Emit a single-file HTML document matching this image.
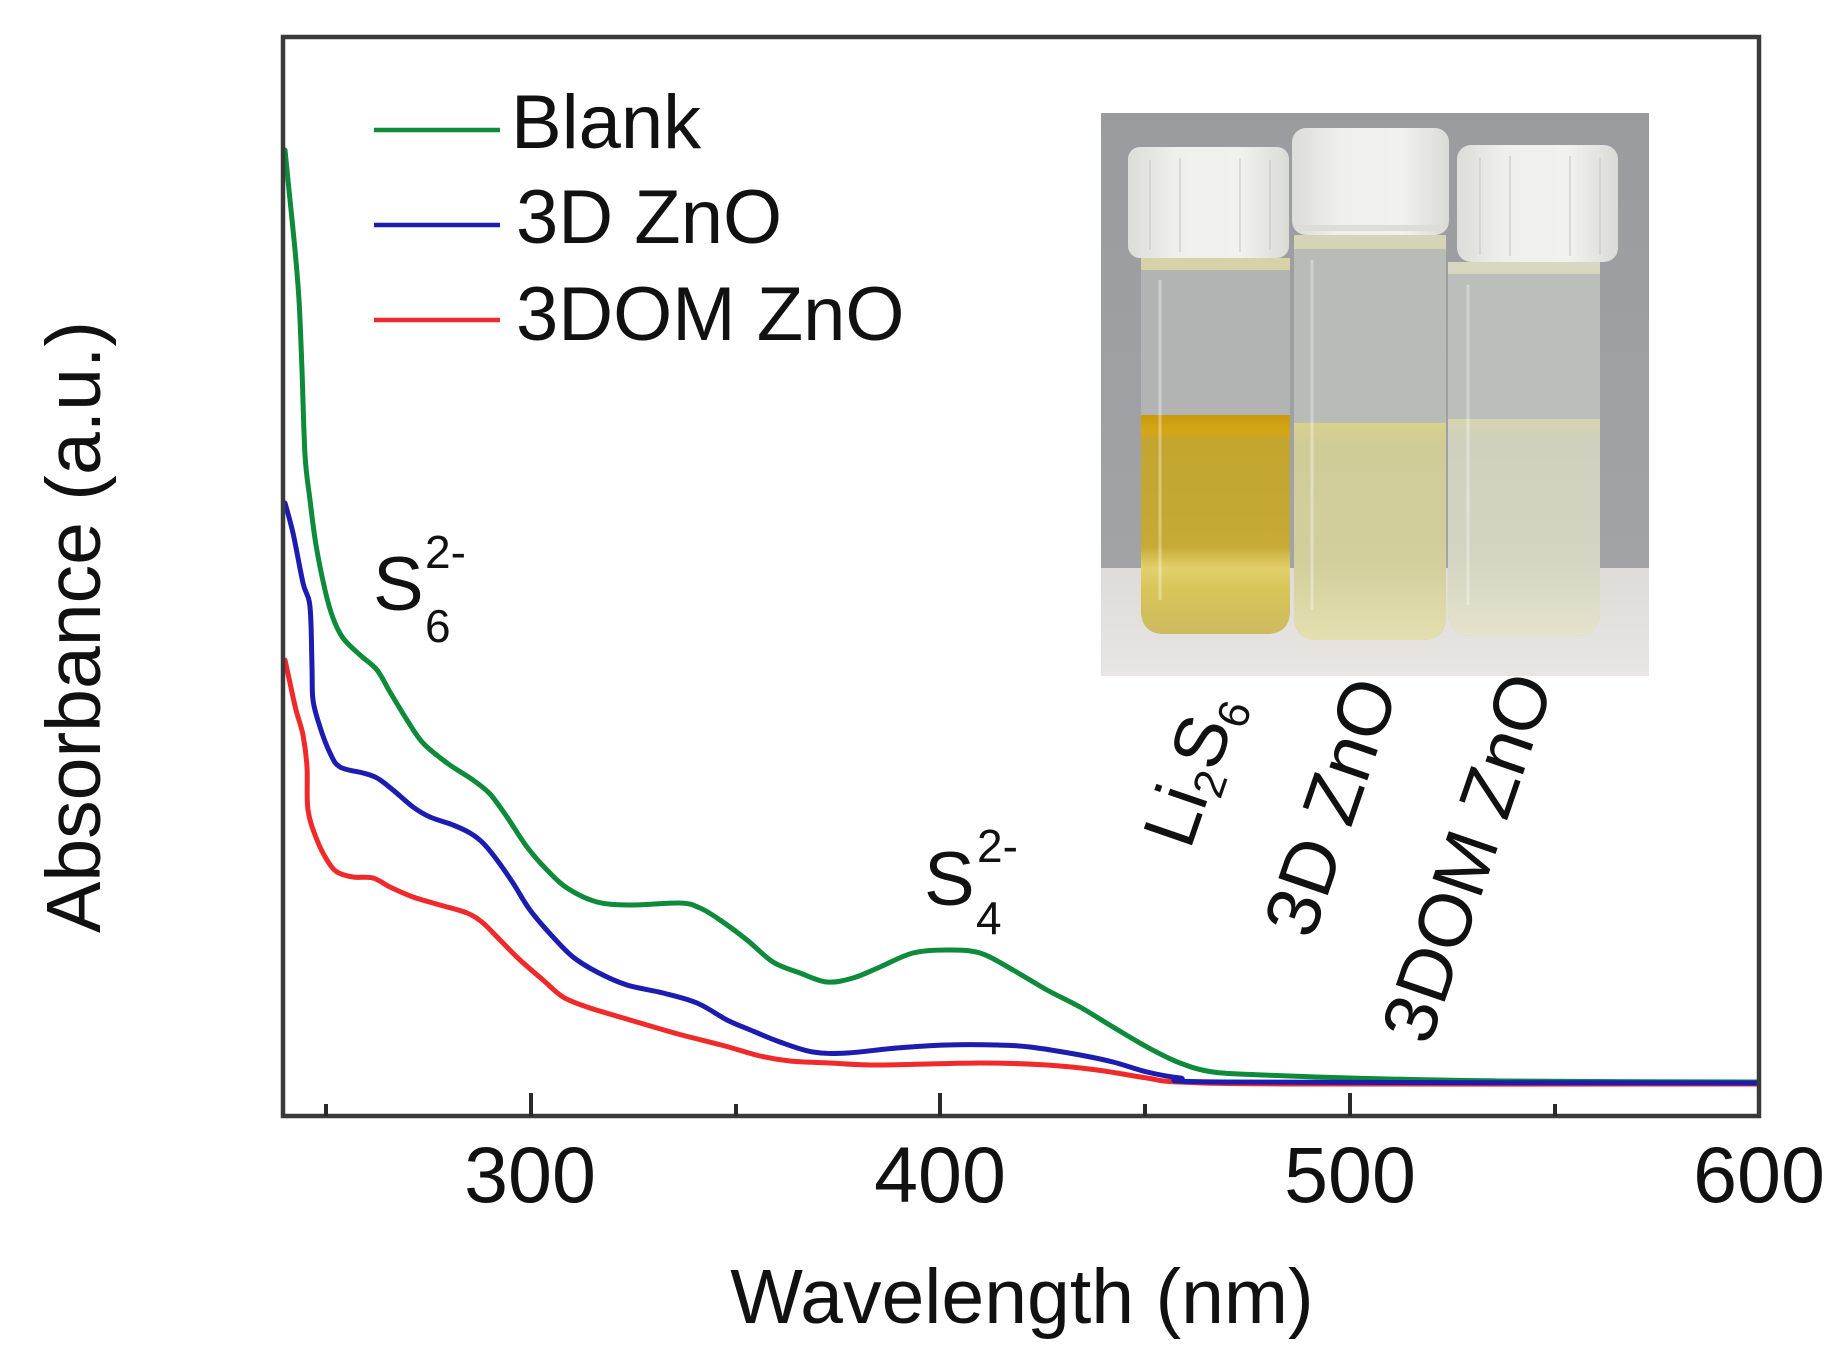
<!DOCTYPE html>
<html>
<head>
<meta charset="utf-8">
<style>
  html,body{margin:0;padding:0;background:#fff;}
  svg{display:block;}
  text{font-family:"Liberation Sans",Arial,sans-serif;fill:#111;}
</style>
</head>
<body>
<svg id="chart" width="1833" height="1361" viewBox="0 0 1833 1361" xmlns="http://www.w3.org/2000/svg">
  <defs>
    <linearGradient id="bgG" x1="0" y1="0" x2="0" y2="1">
      <stop offset="0" stop-color="#999b9f"/>
      <stop offset="1" stop-color="#a3a5a8"/>
    </linearGradient>
    <linearGradient id="tableG" x1="0" y1="0" x2="0" y2="1">
      <stop offset="0" stop-color="#dedbd8"/>
      <stop offset="1" stop-color="#e8e6e3"/>
    </linearGradient>
    <linearGradient id="capG" x1="0" y1="0" x2="1" y2="0">
      <stop offset="0" stop-color="#dcdcd8"/>
      <stop offset="0.3" stop-color="#efefec"/>
      <stop offset="0.7" stop-color="#f1f1ee"/>
      <stop offset="1" stop-color="#dadad6"/>
    </linearGradient>
    <linearGradient id="liq1" x1="0" y1="0" x2="0" y2="1">
      <stop offset="0" stop-color="#c89a0c"/>
      <stop offset="0.08" stop-color="#d2a818"/>
      <stop offset="0.12" stop-color="#c3a530"/>
      <stop offset="0.6" stop-color="#c6aa36"/>
      <stop offset="0.7" stop-color="#e2d06c"/>
      <stop offset="0.8" stop-color="#d8c458"/>
      <stop offset="1" stop-color="#cdbb60"/>
    </linearGradient>
    <linearGradient id="liq2" x1="0" y1="0" x2="0" y2="1">
      <stop offset="0" stop-color="#d8d28a"/>
      <stop offset="0.1" stop-color="#cfcc98"/>
      <stop offset="0.65" stop-color="#d2cf9c"/>
      <stop offset="1" stop-color="#e4dfb0"/>
    </linearGradient>
    <linearGradient id="liq3" x1="0" y1="0" x2="0" y2="1">
      <stop offset="0" stop-color="#d6d4b0"/>
      <stop offset="0.1" stop-color="#cfd0be"/>
      <stop offset="0.65" stop-color="#d3d4c2"/>
      <stop offset="1" stop-color="#e6e3cc"/>
    </linearGradient>
    <clipPath id="photoClip"><rect x="1101" y="113" width="548" height="563"/></clipPath>
  </defs>

  <rect width="1833" height="1361" fill="#fff"/>

  <!-- Inset photo -->
  <g clip-path="url(#photoClip)">
    <rect x="1101" y="113" width="548" height="563" fill="url(#bgG)"/>
    <rect x="1101" y="568" width="548" height="108" fill="url(#tableG)"/>

    <!-- Vial 1 -->
    <path d="M1141 258 H1290 V610 Q1290 634 1266 634 H1165 Q1141 634 1141 610 Z" fill="#b2b4b3"/>
    <path d="M1141 415 H1290 V610 Q1290 634 1266 634 H1165 Q1141 634 1141 610 Z" fill="url(#liq1)"/>
    <rect x="1141" y="258" width="149" height="12" fill="#d8d2a8"/>
    <rect x="1128" y="147" width="161" height="111" rx="12" fill="url(#capG)"/>
    <!-- Vial 2 -->
    <path d="M1294 235 H1446 V616 Q1446 640 1422 640 H1318 Q1294 640 1294 616 Z" fill="#b9bbb7"/>
    <path d="M1294 423 H1446 V616 Q1446 640 1422 640 H1318 Q1294 640 1294 616 Z" fill="url(#liq2)"/>
    <rect x="1294" y="235" width="152" height="14" fill="#d6d4b6"/>
    <rect x="1292" y="128" width="157" height="107" rx="14" fill="url(#capG)"/>
    <rect x="1300" y="225" width="140" height="6" fill="#dcdcd8"/>
    <!-- Vial 3 -->
    <path d="M1448 262 H1600 V612 Q1600 636 1576 636 H1472 Q1448 636 1448 612 Z" fill="#bcbebb"/>
    <path d="M1448 419 H1600 V612 Q1600 636 1576 636 H1472 Q1448 636 1448 612 Z" fill="url(#liq3)"/>
    <rect x="1448" y="262" width="152" height="12" fill="#d8d7c0"/>
    <rect x="1457" y="145" width="161" height="117" rx="14" fill="url(#capG)"/>

    <g stroke="#ffffff" stroke-opacity="0.35" stroke-width="3">
      <line x1="1160" y1="280" x2="1160" y2="600"/>
      <line x1="1312" y1="260" x2="1312" y2="610"/>
      <line x1="1468" y1="285" x2="1468" y2="605"/>
    </g>
    <g stroke="#c9c9c4" stroke-opacity="0.6" stroke-width="2">
      <line x1="1150" y1="160" x2="1150" y2="250"/>
      <line x1="1180" y1="158" x2="1180" y2="252"/>
      <line x1="1240" y1="158" x2="1240" y2="252"/>
      <line x1="1270" y1="160" x2="1270" y2="250"/>
      <line x1="1480" y1="158" x2="1480" y2="255"/>
      <line x1="1510" y1="156" x2="1510" y2="256"/>
      <line x1="1570" y1="156" x2="1570" y2="256"/>
      <line x1="1600" y1="158" x2="1600" y2="255"/>
    </g>
  </g>

  <!-- Curves -->
  <g fill="none" stroke-width="5" stroke-linejoin="round" stroke-linecap="round">
    <polyline class="smooth" stroke="#0d8a3a" points="285,150 290,200 295,250 299,300 302,370 305,455 310,500 316,545 325,590 333,618 343,638 360,655 377,670 390,692 407,720 423,743 447,763 473,780 490,794 507,817 527,847 547,870 567,888 597,902 630,905 680,903 700,908 720,920 747,940 773,962 800,973 827,982 853,978 880,967 913,953 947,950 980,953 1013,970 1047,990 1080,1007 1113,1027 1147,1047 1180,1063 1213,1072 1263,1075 1350,1078 1500,1081 1757,1082"/>
    <polyline class="smooth" stroke="#f02a2a" points="285,660 290,683 296,710 303,735 307,767 308,810 317,840 327,860 337,872 353,877 373,878 390,887 413,897 440,905 467,913 483,923 500,940 520,960 543,980 563,997 587,1007 613,1015 630,1020 678,1034 725,1046 760,1056 790,1061 830,1063 880,1065 980,1063 1047,1065 1097,1070 1147,1078 1180,1082 1300,1084 1757,1084"/>
    <polyline class="smooth" stroke="#1c1cb0" points="285,503 293,533 303,583 310,607 312,667 313,700 320,727 330,753 340,767 363,773 377,778 393,790 413,807 430,817 453,825 470,833 483,843 497,860 513,883 530,910 553,937 573,957 597,972 627,985 663,993 697,1003 727,1020 748,1029 780,1042 813,1052 847,1053 897,1048 947,1045 997,1045 1030,1047 1080,1055 1113,1062 1147,1072 1180,1078 1230,1082 1757,1083"/>
  </g>

  <!-- Frame and ticks -->
  <rect x="283" y="37" width="1476" height="1079" fill="none" stroke="#3a3a3a" stroke-width="4.5"/>
  <path d="M531 1116 V1093 M940 1116 V1093 M1350 1116 V1093 M326 1116 V1104 M736 1116 V1104 M1145 1116 V1104 M1555 1116 V1104" stroke="#2a2a2a" stroke-width="4" fill="none"/>

  <!-- Tick labels -->
  <g font-size="79" text-anchor="middle">
    <text x="530" y="1202">300</text>
    <text x="940" y="1202">400</text>
    <text x="1350" y="1202">500</text>
    <text x="1759" y="1202">600</text>
  </g>

  <!-- Axis titles -->
  <text x="1022" y="1323" font-size="77" text-anchor="middle">Wavelength (nm)</text>
  <text transform="translate(100,627) rotate(-90)" font-size="77" text-anchor="middle">Absorbance (a.u.)</text>

  <!-- Legend -->
  <g stroke-width="4.5">
    <line x1="374" y1="130" x2="500" y2="130" stroke="#0d8a3a"/>
    <line x1="374" y1="225" x2="500" y2="225" stroke="#1c1cb0"/>
    <line x1="374" y1="320" x2="500" y2="320" stroke="#f02a2a"/>
  </g>
  <g font-size="76">
    <text x="511" y="148">Blank</text>
    <text x="516" y="243">3D ZnO</text>
    <text x="516" y="340">3DOM ZnO</text>
  </g>

  <!-- S6 2- label -->
  <text x="373" y="610" font-size="76">S</text>
  <text x="425" y="568" font-size="46">2-</text>
  <text x="425" y="642" font-size="46">6</text>

  <!-- S4 2- label -->
  <text x="924" y="905" font-size="76">S</text>
  <text x="977" y="862" font-size="46">2-</text>
  <text x="976" y="934" font-size="46">4</text>

  <!-- Rotated vial labels -->
  <text transform="translate(1190,851) rotate(-71)" font-size="74">Li<tspan font-size="44" dy="12">2</tspan><tspan dy="-12">S</tspan><tspan font-size="44" dy="12">6</tspan></text>
  <text transform="translate(1312,941) rotate(-71)" font-size="76">3D ZnO</text>
  <text transform="translate(1429,1047) rotate(-71)" font-size="75">3DOM ZnO</text>
</svg>
<script>
(function(){
  var ns="http://www.w3.org/2000/svg";
  var pls=document.querySelectorAll("polyline.smooth");
  for(var k=0;k<pls.length;k++){
    var pl=pls[k];
    var raw=pl.getAttribute("points").trim().split(/\s+/);
    var p=[];
    for(var i=0;i<raw.length;i++){var xy=raw[i].split(",");p.push([+xy[0],+xy[1]]);}
    var d="M"+p[0][0]+","+p[0][1];
    for(var i=0;i<p.length-1;i++){
      var p0=p[i>0?i-1:i],p1=p[i],p2=p[i+1],p3=p[i+2<p.length?i+2:i+1];
      var c1x=p1[0]+(p2[0]-p0[0])/6,c1y=p1[1]+(p2[1]-p0[1])/6;
      var c2x=p2[0]-(p3[0]-p1[0])/6,c2y=p2[1]-(p3[1]-p1[1])/6;
      d+=" C"+c1x.toFixed(1)+","+c1y.toFixed(1)+" "+c2x.toFixed(1)+","+c2y.toFixed(1)+" "+p2[0]+","+p2[1];
    }
    var path=document.createElementNS(ns,"path");
    path.setAttribute("d",d);
    path.setAttribute("stroke",pl.getAttribute("stroke"));
    pl.parentNode.replaceChild(path,pl);
  }
})();
</script>
</body>
</html>
